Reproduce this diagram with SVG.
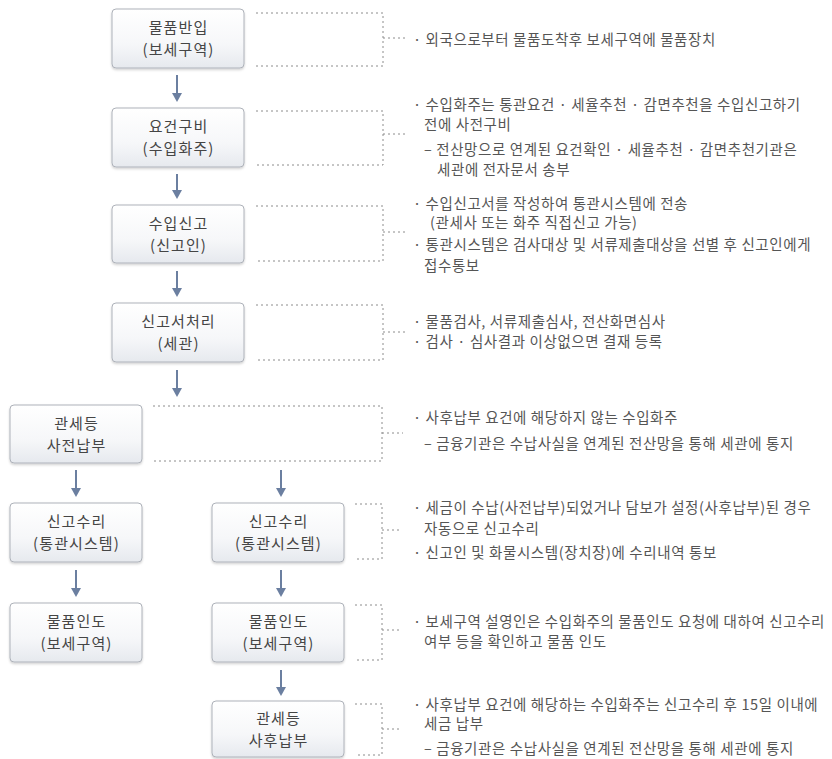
<svg xmlns="http://www.w3.org/2000/svg" width="832" height="759" viewBox="0 0 832 759">
<defs>
<linearGradient id="bg" x1="0" y1="0" x2="0" y2="1">
<stop offset="0" stop-color="#ffffff"/>
<stop offset="0.6" stop-color="#f6f7f9"/>
<stop offset="1" stop-color="#e6e9ee"/>
</linearGradient>
<filter id="sh" x="-10%" y="-10%" width="120%" height="130%">
<feDropShadow dx="0" dy="1.5" stdDeviation="1.2" flood-color="#000" flood-opacity="0.18"/>
</filter>
</defs>
<style>
.box{fill:url(#bg);stroke:#aeb2ba;stroke-width:1;filter:url(#sh)}
.bt{font-family:"Noto Sans CJK KR","Noto Sans",sans-serif;font-size:15px;letter-spacing:1.1px;fill:#454545;text-anchor:middle}
.t{font-family:"Noto Sans CJK KR","Noto Sans",sans-serif;font-size:14.5px;letter-spacing:0.6px;fill:#555}
.dot{fill:none;stroke:#8c8c8c;stroke-width:1;stroke-dasharray:2 3}
.ar{stroke:#6b7fa0;stroke-width:2;fill:none}
.ah{fill:#6b7fa0}
</style>
<rect width="832" height="759" fill="#fff"/>

<g id="connectors">
<line class="ar" x1="177" y1="75" x2="177" y2="93"/><path class="ah" d="M172,93 L182,93 L177,102 Z"/>
<line class="ar" x1="177" y1="174" x2="177" y2="190"/><path class="ah" d="M172,190 L182,190 L177,199 Z"/>
<line class="ar" x1="177" y1="271" x2="177" y2="288"/><path class="ah" d="M172,288 L182,288 L177,297 Z"/>
<line class="ar" x1="177" y1="370" x2="177" y2="388"/><path class="ah" d="M172,388 L182,388 L177,397 Z"/>
<line class="ar" x1="76" y1="470" x2="76" y2="488"/><path class="ah" d="M71,488 L81,488 L76,497 Z"/>
<line class="ar" x1="281" y1="470" x2="281" y2="488"/><path class="ah" d="M276,488 L286,488 L281,497 Z"/>
<line class="ar" x1="76" y1="570" x2="76" y2="588"/><path class="ah" d="M71,588 L81,588 L76,597 Z"/>
<line class="ar" x1="281" y1="570" x2="281" y2="588"/><path class="ah" d="M276,588 L286,588 L281,597 Z"/>
<line class="ar" x1="281" y1="670" x2="281" y2="687"/><path class="ah" d="M276,687 L286,687 L281,696 Z"/>

<path class="dot" d="M256,13 H383 V66 H256 M383,38 H405"/>
<path class="dot" d="M256,111 H383 V165 H256 M383,134 H405"/>
<path class="dot" d="M256,206 H383 V261 H256 M383,232 H405"/>
<path class="dot" d="M256,305 H383 V360 H256 M383,332 H405"/>
<path class="dot" d="M153,406 H382 V461 H153 M382,433 H403"/>
<path class="dot" d="M355,504 H382 V559 H355 M382,530 H400"/>
<path class="dot" d="M355,605 H382 V660 H355 M382,630 H400"/>
<path class="dot" d="M355,704 H382 V755 H355 M382,729 H400"/>
</g>

<g id="n1"><rect class="box" x="112" y="9" width="132" height="59" rx="4"/>
<text class="bt" x="178.5" y="33">물품반입</text><text class="bt" x="178.5" y="55">(보세구역)</text></g>
<g id="n2"><rect class="box" x="112" y="108" width="132" height="59" rx="4"/>
<text class="bt" x="178.5" y="132">요건구비</text><text class="bt" x="178.5" y="154">(수입화주)</text></g>
<g id="n3"><rect class="box" x="112" y="205" width="132" height="58" rx="4"/>
<text class="bt" x="178.5" y="229">수입신고</text><text class="bt" x="178.5" y="251">(신고인)</text></g>
<g id="n4"><rect class="box" x="112" y="303" width="132" height="59" rx="4"/>
<text class="bt" x="178.5" y="327">신고서처리</text><text class="bt" x="178.5" y="349">(세관)</text></g>
<g id="n5"><rect class="box" x="10" y="405" width="132" height="58" rx="4"/>
<text class="bt" x="76.5" y="429">관세등</text><text class="bt" x="76.5" y="451">사전납부</text></g>
<g id="n6"><rect class="box" x="10" y="503" width="132" height="59" rx="4"/>
<text class="bt" x="76.5" y="527">신고수리</text><text class="bt" x="76.5" y="549">(통관시스템)</text></g>
<g id="n7"><rect class="box" x="212" y="503" width="132" height="59" rx="4"/>
<text class="bt" x="278.5" y="527">신고수리</text><text class="bt" x="278.5" y="549">(통관시스템)</text></g>
<g id="n8"><rect class="box" x="10" y="603" width="132" height="59" rx="4"/>
<text class="bt" x="76.5" y="627">물품인도</text><text class="bt" x="76.5" y="649">(보세구역)</text></g>
<g id="n9"><rect class="box" x="212" y="603" width="132" height="59" rx="4"/>
<text class="bt" x="278.5" y="627">물품인도</text><text class="bt" x="278.5" y="649">(보세구역)</text></g>
<g id="n10"><rect class="box" x="212" y="701" width="132" height="56" rx="4"/>
<text class="bt" x="278.5" y="724">관세등</text><text class="bt" x="278.5" y="746">사후납부</text></g>

<g id="notes">
<text class="t" x="413" y="45">· 외국으로부터 물품도착후 보세구역에 물품장치</text>

<text class="t" x="413" y="110">· 수입화주는 통관요건 · 세율추천 · 감면추천을 수입신고하기</text>
<text class="t" x="424" y="130">전에 사전구비</text>
<text class="t" x="424" y="155">– 전산망으로 연계된 요건확인 · 세율추천 · 감면추천기관은</text>
<text class="t" x="437" y="175">세관에 전자문서 송부</text>

<text class="t" x="413" y="209">· 수입신고서를 작성하여 통관시스템에 전송</text>
<text class="t" x="430" y="228">(관세사 또는 화주 직접신고 가능)</text>
<text class="t" x="413" y="250">· 통관시스템은 검사대상 및 서류제출대상을 선별 후 신고인에게</text>
<text class="t" x="424" y="271">접수통보</text>

<text class="t" x="413" y="327">· 물품검사, 서류제출심사, 전산화면심사</text>
<text class="t" x="413" y="347">· 검사 · 심사결과 이상없으면 결재 등록</text>

<text class="t" x="413" y="423">· 사후납부 요건에 해당하지 않는 수입화주</text>
<text class="t" x="424" y="449">– 금융기관은 수납사실을 연계된 전산망을 통해 세관에 통지</text>

<text class="t" x="413" y="513">· 세금이 수납(사전납부)되었거나 담보가 설정(사후납부)된 경우</text>
<text class="t" x="424" y="534">자동으로 신고수리</text>
<text class="t" x="413" y="558">· 신고인 및 화물시스템(장치장)에 수리내역 통보</text>

<text class="t" x="413" y="627">· 보세구역 설영인은 수입화주의 물품인도 요청에 대하여 신고수리</text>
<text class="t" x="424" y="647">여부 등을 확인하고 물품 인도</text>

<text class="t" x="413" y="710">· 사후납부 요건에 해당하는 수입화주는 신고수리 후 15일 이내에</text>
<text class="t" x="424" y="729">세금 납부</text>
<text class="t" x="424" y="754">– 금융기관은 수납사실을 연계된 전산망을 통해 세관에 통지</text>
</g>
</svg>
